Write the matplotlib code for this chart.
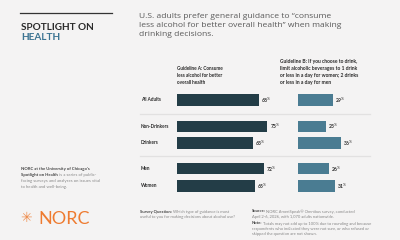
#!/usr/bin/env python3
"""NORC Spotlight on Health: guidance preference for alcohol use."""

import matplotlib.pyplot as plt
from matplotlib.lines import Line2D

groups = ["All Adults", "Non-Drinkers", "Drinkers", "Men", "Women"]
guide_a = [68, 75, 63, 72, 65]
guide_b = [29, 23, 36, 26, 31]

# layout: row positions (units of ~16.5 px), B column offset in % units
rows = [0, 1.6, 2.6, 4.17, 5.2]
b_offset = 100

bg = "#f4f3f3"
dark = "#233d47"
teal = "#4a7c92"
grey = "#5a5a5a"
orange = "#ee7b30"

plt.rcParams["font.family"] = ["Lato", "DejaVu Sans"]
plt.rcParams["mathtext.fontset"] = "custom"
plt.rcParams["mathtext.rm"] = "Lato"
plt.rcParams["mathtext.bf"] = "Lato:bold"

W, H = 400, 240
fig = plt.figure(figsize=(4, 2.4), dpi=100, facecolor=bg)


def px(x, y):
    return x / W, 1 - y / H


def ftext(x, y, s, **kw):
    return fig.text(*px(x, y), s, **kw)


def follow(prev, s, fs):
    # regular text continuing right after a bold lead-in
    fig.add_artist(plt.Annotation(s, xy=(1, 0), xycoords=prev, va="bottom",
                                  ha="left", fontsize=fs, color="#888888"))


# left panel
fig.add_artist(Line2D([20 / W, 112 / W], [1 - 13 / H] * 2, color="#333333", lw=0.9))
ftext(21, 29.5, "SPOTLIGHT ON", fontsize=7.2, fontweight="bold", color="#2b2b2b", va="baseline")
ftext(21, 40.5, "HEALTH", fontsize=7.2, fontweight="bold", color="#3c7492", va="baseline")

fs_l = 3.1
ftext(21, 170, "NORC at the University of Chicago's", fontsize=fs_l,
      fontweight="bold", color="#444444", va="baseline")
t2 = ftext(21, 176, "Spotlight on Health", fontsize=fs_l, fontweight="bold",
           color="#444444", va="baseline")
follow(t2, " is a series of public-", fs_l)
ftext(21, 182, "facing surveys and analyses on issues vital", fontsize=fs_l,
      color="#888888", va="baseline")
ftext(21, 188, "to health and well-being.", fontsize=fs_l, color="#888888", va="baseline")

ftext(20, 222.5, "\u2733", fontsize=10, color=orange, va="baseline",
      family="DejaVu Sans", alpha=0.85)
ftext(38, 223.5, "NORC", fontsize=13, color=orange, va="baseline")

# title
ftext(139, 13, "U.S. adults prefer general guidance to \u201cconsume\n"
      "less alcohol for better overall health\u201d when making\n"
      "drinking decisions.", fontsize=6.1, color=grey, va="top",
      linespacing=1.35, ha="left", family="Open Sans")

# column headers
ftext(177, 66, "Guideline A: Consume\nless alcohol for better\noverall health",
      fontsize=3.4, fontweight="bold", color="#2b2b2b", va="top", linespacing=1.55)
ftext(280, 59, "Guideline B: If you choose to drink,\nlimit alcoholic beverages to 1 drink\n"
      "or less in a day for women; 2 drinks\nor less in a day for men",
      fontsize=3.6, fontweight="bold", color="#2b2b2b", va="top", linespacing=1.5)

# bars
ax = fig.add_axes([176.7 / W, 1 - 195 / H, 193.6 / W, 105 / H])
ax.set_facecolor("none")
ax.barh(rows, guide_a, height=0.68, color=dark)
ax.barh(rows, guide_b, left=b_offset, height=0.68, color=teal)
ax.set_xlim(0, 160)
ax.set_ylim(5.75, -0.6)
ax.axis("off")

for r, g, a, b in zip(rows, groups, guide_a, guide_b):
    ax.annotate(g, xy=(0, r), xycoords="data", xytext=(-26, 0),
                textcoords="offset points", va="center", ha="left",
                fontsize=3.3, fontweight="bold", color="#2b2b2b")
    ax.annotate(r"$\mathbf{%d}^{\%%}$" % a, xy=(a, r), xytext=(1.5, 0),
                textcoords="offset points", va="center", ha="left",
                fontsize=3.6, color="#2b2b2b")
    ax.annotate(r"$\mathbf{%d}^{\%%}$" % b, xy=(b_offset + b, r), xytext=(1.5, 0),
                textcoords="offset points", va="center", ha="left",
                fontsize=3.6, color="#2b2b2b")

for sy in (114, 155.7):
    fig.add_artist(Line2D([140 / W, 370 / W], [1 - sy / H] * 2, color="#e2e1e1", lw=0.9))

# footer
fs_f = 2.95
q = ftext(140, 212.5, "Survey Question:", fontsize=fs_f, fontweight="bold",
          color="#444444", va="baseline")
follow(q, " Which type of guidance is most", fs_f)
ftext(140, 218, "useful to you for making decisions about alcohol use?", fontsize=fs_f,
      color="#888888", va="baseline")

s = ftext(251.5, 212.5, "Source:", fontsize=fs_f, fontweight="bold", color="#444444",
          va="baseline")
follow(s, " NORC AmeriSpeak\u00ae Omnibus survey, conducted", fs_f)
ftext(251.5, 218, "April 2-6, 2026, with 1,070 adults nationwide.", fontsize=fs_f,
      color="#888888", va="baseline")
n = ftext(251.5, 224.5, "Note:", fontsize=fs_f, fontweight="bold", color="#444444",
          va="baseline")
follow(n, " Totals may not add up to 100% due to rounding and because", fs_f)
ftext(251.5, 230, "respondents who indicated they were not sure, or who refused or",
      fontsize=fs_f, color="#888888", va="baseline")
ftext(251.5, 235.5, "skipped the question are not shown.", fontsize=fs_f,
      color="#888888", va="baseline")

fig.savefig("out.png", dpi=100, facecolor=bg)
plt.close(fig)
